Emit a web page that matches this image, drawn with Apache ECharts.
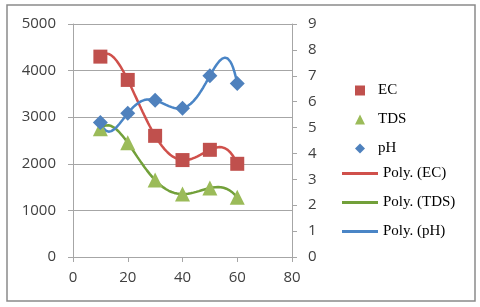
<!DOCTYPE html>
<html><head><meta charset="utf-8">
<script src="https://cdn.jsdelivr.net/npm/echarts@6/dist/echarts.min.js"></script>
<style>html,body{margin:0;padding:0;background:#fff}#c{width:480px;height:307px}</style>
</head><body><div id="c"></div>
<script>
const xValues = [10, 20, 30, 40, 50, 60];
const ecValues = [4300, 3800, 2600, 2080, 2300, 2000];
const tdsValues = [2750, 2450, 1650, 1350, 1480, 1280];
const phValues = [5.2, 5.55, 6.05, 5.75, 7.0, 6.7];
const leftTicks = [0, 5000, 1000];
const rightTicks = [0, 9, 1];
const xTicks = [0, 80, 20];

// Excel-style polynomial trendline (order 5, least squares) computed from the data
function polyFit(xs, ys, order) {
  const c = 35, s = 25;
  const n = order + 1;
  const A = Array.from({length: n}, () => new Array(n + 1).fill(0));
  xs.forEach((x, i) => {
    const t = (x - c) / s;
    const p = [];
    for (let k = 0; k < n; k++) p.push(Math.pow(t, k));
    for (let r = 0; r < n; r++) {
      for (let q = 0; q < n; q++) A[r][q] += p[r] * p[q];
      A[r][n] += p[r] * ys[i];
    }
  });
  for (let col = 0; col < n; col++) {
    let piv = col;
    for (let r = col + 1; r < n; r++) if (Math.abs(A[r][col]) > Math.abs(A[piv][col])) piv = r;
    [A[col], A[piv]] = [A[piv], A[col]];
    for (let r = 0; r < n; r++) {
      if (r === col) continue;
      const f = A[r][col] / A[col][col];
      for (let q = col; q <= n; q++) A[r][q] -= f * A[col][q];
    }
  }
  const coef = A.map((row, i) => row[n] / row[i]);
  const out = [];
  for (let x = xs[0]; x <= xs[xs.length - 1] + 1e-9; x += 0.5) {
    const t = (x - c) / s;
    let y = 0;
    for (let k = 0; k < n; k++) y += coef[k] * Math.pow(t, k);
    out.push([x, y]);
  }
  return out;
}

const pair = (xs, ys) => xs.map((x, i) => [x, ys[i]]);
const RED = '#C0504D', GREEN = '#9BBB59', BLUE = '#4F81BD';
const RED_L = '#D0504B', GREEN_L = '#72A03A', BLUE_L = '#4A85C6';
const labelFont = {fontFamily: 'Open Sans', fontSize: 15, color: '#404040', formatter: v => String(v)};
const lineIcon = 'rect';

const chart = echarts.init(document.getElementById('c'), null, {renderer: 'canvas'});
chart.setOption({
  animation: false,
  backgroundColor: '#fff',
  graphic: [{type: 'rect', shape: {x: 7, y: 5, width: 468, height: 296},
    style: {fill: 'none', stroke: '#8a8a8a', lineWidth: 1.5}, z: -1}],
  grid: {left: 73, right: 188, top: 24, bottom: 50},
  xAxis: {type: 'value', min: xTicks[0], max: xTicks[1], interval: xTicks[2],
    axisLine: {show: true, lineStyle: {color: '#a6a6a6'}},
    axisTick: {show: true, length: 5, lineStyle: {color: '#a6a6a6'}},
    splitLine: {show: false},
    axisLabel: Object.assign({}, labelFont, {margin: 13})},
  yAxis: [
    {type: 'value', min: leftTicks[0], max: leftTicks[1], interval: leftTicks[2],
      axisLine: {show: true, lineStyle: {color: '#a6a6a6'}},
      axisTick: {show: true, length: 5, lineStyle: {color: '#a6a6a6'}},
      splitLine: {show: true, lineStyle: {color: '#a6a6a6', width: 1}},
      axisLabel: Object.assign({}, labelFont, {margin: 17})},
    {type: 'value', min: rightTicks[0], max: rightTicks[1], interval: rightTicks[2], position: 'right',
      axisLine: {show: true, lineStyle: {color: '#a6a6a6'}},
      axisTick: {show: true, length: 5, lineStyle: {color: '#a6a6a6'}},
      splitLine: {show: false},
      axisLabel: Object.assign({}, labelFont, {margin: 16})}
  ],
  legend: [
    {data: [{name: 'EC', icon: 'rect'}, {name: 'TDS', icon: 'triangle'}, {name: 'pH', icon: 'diamond'}],
      orient: 'vertical', left: 350, top: 78, itemWidth: 10, itemHeight: 10, itemGap: 14,
      textStyle: {fontFamily: 'Liberation Serif', fontSize: 15, color: '#000', lineHeight: 14, padding: [0, 0, 0, 8]}},
    {data: [{name: 'Poly. (EC)', icon: lineIcon}, {name: 'Poly. (TDS)', icon: lineIcon}, {name: 'Poly. (pH)', icon: lineIcon}],
      orient: 'vertical', left: 337, top: 161, itemWidth: 36, itemHeight: 3, itemGap: 14,
      textStyle: {fontFamily: 'Liberation Serif', fontSize: 15, color: '#000', lineHeight: 14}}
  ],
  series: [
    {name: 'Poly. (EC)', type: 'line', yAxisIndex: 0, symbol: 'none', data: polyFit(xValues, ecValues, 5),
      lineStyle: {color: RED_L, width: 2.5}, itemStyle: {color: RED_L}, z: 1},
    {name: 'Poly. (TDS)', type: 'line', yAxisIndex: 0, symbol: 'none', data: polyFit(xValues, tdsValues, 5),
      lineStyle: {color: GREEN_L, width: 2.5}, itemStyle: {color: GREEN_L}, z: 1},
    {name: 'Poly. (pH)', type: 'line', yAxisIndex: 1, symbol: 'none', data: polyFit(xValues, phValues, 5),
      lineStyle: {color: BLUE_L, width: 2.5}, itemStyle: {color: BLUE_L}, z: 1},
    {name: 'EC', type: 'scatter', yAxisIndex: 0, symbol: 'rect', symbolSize: 14, data: pair(xValues, ecValues),
      itemStyle: {color: RED, opacity: 1}, z: 3},
    {name: 'TDS', type: 'scatter', yAxisIndex: 0, symbol: 'triangle', symbolSize: 15, data: pair(xValues, tdsValues),
      itemStyle: {color: GREEN, opacity: 1}, z: 3},
    {name: 'pH', type: 'scatter', yAxisIndex: 1, symbol: 'diamond', symbolSize: 15, data: pair(xValues, phValues),
      itemStyle: {color: BLUE, opacity: 1}, z: 3}
  ]
});
</script>
</body></html>
